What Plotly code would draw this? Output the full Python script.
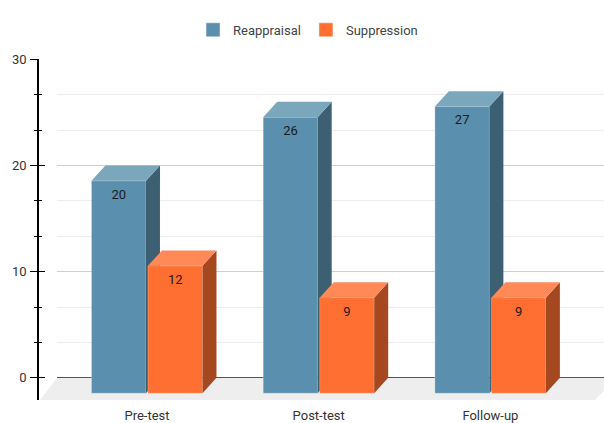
import plotly.graph_objects as go

# Study data
categories = ["Pre-test", "Post-test", "Follow-up"]
reappraisal = [20, 26, 27]
suppression = [12, 9, 9]

W, H = 604, 423

# Oblique projection of the bars, in axis units
DEPTH_X = 0.0815
DEPTH_Y = 1.45
BAR_WIDTH = 0.3174
OFFSET_A = -0.3232
OFFSET_B = 0.0058
LABEL_DROP = 2.83

X_RANGE = [-0.524, 2.6616]
Y_RANGE = [-2.08, 30]
X_DOMAIN = [57 / W, 1]
Y_DOMAIN = [1 - 400.5 / H, 1 - 53.3 / H]
AXIS_POS = 37.5 / W

positions = list(range(len(categories)))
FONT = "Roboto"


def add_series(fig, name, values, offset, front, top, side, xa, ya):
    # Front face as a bar, lowered by the projection depth
    fig.add_bar(
        x=positions, y=values, base=[-DEPTH_Y] * len(values),
        width=BAR_WIDTH, offset=offset, name=name, showlegend=False,
        marker=dict(color=front, line=dict(color="rgba(255,255,255,0.25)", width=1)),
        hoverinfo="skip", xaxis=xa, yaxis=ya,
    )
    # Receding side and top faces
    for c, v in zip(positions, values):
        left = c + offset
        right = left + BAR_WIDTH
        front_top = v - DEPTH_Y
        fig.add_scatter(
            x=[right, right + DEPTH_X, right + DEPTH_X, right, right],
            y=[front_top, v, 0, -DEPTH_Y, front_top],
            mode="lines", fill="toself", fillcolor=side, line=dict(width=0),
            showlegend=False, hoverinfo="skip", xaxis=xa, yaxis=ya,
        )
        fig.add_scatter(
            x=[left, right, right + DEPTH_X, left + DEPTH_X, left],
            y=[front_top, front_top, v, v, front_top],
            mode="lines", fill="toself", fillcolor=top, line=dict(width=0),
            showlegend=False, hoverinfo="skip", xaxis=xa, yaxis=ya,
        )
    # Value labels on the front face
    fig.add_scatter(
        x=[c + offset + BAR_WIDTH / 2 for c in positions],
        y=[v - LABEL_DROP for v in values],
        text=[str(v) for v in values], mode="text", textposition="middle center",
        textfont=dict(family=FONT, size=13, color="#1a1a1a"),
        showlegend=False, hoverinfo="skip", xaxis=xa, yaxis=ya,
    )
    # Legend swatch
    fig.add_scatter(
        x=[None], y=[None], mode="markers", name=name,
        marker=dict(symbol="square", size=14, color=front,
                    line=dict(color="rgba(255,255,255,0.45)", width=1)),
        xaxis=xa, yaxis=ya,
    )


fig = go.Figure()
add_series(fig, "Reappraisal", reappraisal, OFFSET_A,
           "#5a90ae", "#7ba7bd", "#3d5f72", "x", "y")
add_series(fig, "Suppression", suppression, OFFSET_B,
           "#ff6f31", "#ff8a58", "#a6481f", "x2", "y2")


def px(x, y):
    return f"{x / W:.5f},{1 - y / H:.5f}"


floor = "M" + " L".join([px(40, 400.5), px(57, 378), px(604, 378), px(604, 391), px(595, 400.5)]) + " Z"

tick_font = dict(family=FONT, size=13, color="#333333")
fig.update_layout(
    width=W, height=H,
    margin=dict(l=0, r=0, t=0, b=0),
    paper_bgcolor="white", plot_bgcolor="white",
    barmode="overlay",
    showlegend=True,
    legend=dict(orientation="h", x=0.51, xanchor="center", y=1 - 8 / H, yanchor="top",
                font=dict(family=FONT, size=13, color="#444444"),
                itemsizing="trace", bgcolor="rgba(0,0,0,0)"),
    shapes=[dict(type="path", path=floor, xref="paper", yref="paper",
                 fillcolor="#eeeeee", line=dict(width=0), layer="below")],
    xaxis=dict(domain=X_DOMAIN, range=X_RANGE, anchor="y", tickmode="array",
               tickvals=positions, ticktext=categories, ticks="", showgrid=False,
               showline=False, zeroline=False, tickfont=tick_font, ticklabelstandoff=6),
    xaxis2=dict(overlaying="x", range=X_RANGE, visible=False, anchor="y2"),
    yaxis=dict(domain=Y_DOMAIN, range=Y_RANGE, anchor="free", position=AXIS_POS,
               tickmode="linear", tick0=0, dtick=10, ticks="outside", ticklen=6.5,
               tickcolor="#000000", tickwidth=1, showline=True, linecolor="#000000",
               linewidth=1.5, showgrid=True, gridcolor="#cfcfcf", gridwidth=1,
               zeroline=True, zerolinecolor="#555555", zerolinewidth=1,
               tickfont=tick_font, ticklabelstandoff=1,
               minor=dict(tick0=0, dtick=10 / 3, ticks="outside", ticklen=3,
                          tickcolor="#000000", tickwidth=1,
                          showgrid=True, gridcolor="#ececec", gridwidth=1)),
    yaxis2=dict(overlaying="y", range=Y_RANGE, anchor="free", position=AXIS_POS,
                side="left", tickmode="linear", tick0=0, dtick=10, ticks="inside",
                ticklen=6.5, tickcolor="#000000", tickwidth=1, showticklabels=False,
                showgrid=False, zeroline=False, showline=False,
                minor=dict(tick0=0, dtick=10 / 3, ticks="inside", ticklen=3,
                           tickcolor="#000000", tickwidth=1, showgrid=False)),
)

fig.write_html("out.html")
